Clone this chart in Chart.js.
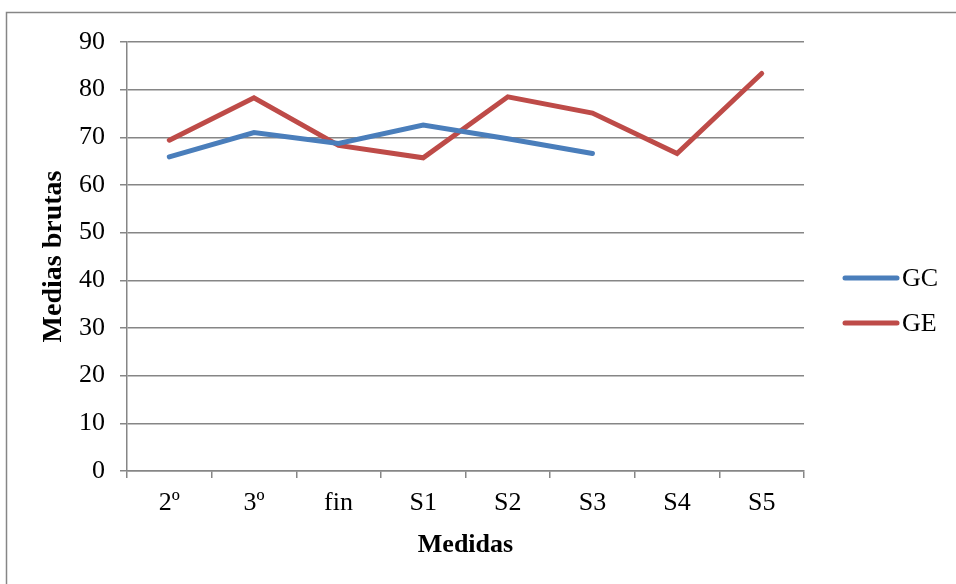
<!DOCTYPE html>
<html>
<head>
<meta charset="utf-8">
<script src="https://cdn.jsdelivr.net/npm/chart.js@4/dist/chart.umd.min.js"></script>
<style>
  html, body { margin: 0; padding: 0; background: #ffffff; }
  #wrap { width: 956px; height: 584px; }
</style>
</head>
<body>
<div id="wrap"><canvas id="c" width="956" height="584"></canvas></div>
<script>
// Measurement points and group means
const categories = ['2º', '3º', 'fin', 'S1', 'S2', 'S3', 'S4', 'S5'];
const gcValues = [65.9, 71.0, 68.7, 72.6, 69.7, 66.6, null, null];
const geValues = [69.4, 78.3, 68.3, 65.7, 78.5, 75.1, 66.6, 83.4];
const seriesNames = ['GC', 'GE'];
const seriesColors = ['#4A7EBB', '#BE4B48'];
const yTicks = [0, 10, 20, 30, 40, 50, 60, 70, 80, 90];

const FONT = "'Liberation Serif', 'Times New Roman', serif";
const GRID = '#868686';

// Frame around the whole chart
const framePlugin = {
  id: 'frame',
  beforeDraw(chart) {
    const ctx = chart.ctx;
    ctx.save();
    ctx.fillStyle = '#ffffff';
    ctx.fillRect(0, 0, chart.width, chart.height);
    ctx.strokeStyle = GRID;
    ctx.lineWidth = 1.5;
    ctx.strokeRect(6.5, 12.5, 1200, 1200);
    ctx.restore();
  }
};

// Legend on the right, one line sample per series
const sideLegend = {
  id: 'sideLegend',
  afterDraw(chart) {
    const ctx = chart.ctx;
    const rows = [278, 323];
    ctx.save();
    chart.data.datasets.forEach((ds, i) => {
      const y = rows[i];
      ctx.strokeStyle = ds.borderColor;
      ctx.lineWidth = 5;
      ctx.lineCap = 'round';
      ctx.beginPath();
      ctx.moveTo(845, y);
      ctx.lineTo(897, y);
      ctx.stroke();
      ctx.fillStyle = '#000000';
      ctx.font = '26px ' + FONT;
      ctx.textAlign = 'left';
      ctx.textBaseline = 'middle';
      ctx.fillText(ds.label, 902, y + 1);
    });
    ctx.restore();
  }
};

new Chart(document.getElementById('c'), {
  type: 'line',
  data: {
    labels: categories,
    datasets: [
      { label: seriesNames[0], data: gcValues, borderColor: seriesColors[0], backgroundColor: seriesColors[0] },
      { label: seriesNames[1], data: geValues, borderColor: seriesColors[1], backgroundColor: seriesColors[1] }
    ]
  },
  options: {
    responsive: false,
    animation: false,
    devicePixelRatio: 1,
    layout: { padding: { left: 30, right: 152, top: 42, bottom: 20 } },
    elements: {
      line: { borderWidth: 5, tension: 0, borderCapStyle: 'round', borderJoinStyle: 'miter' },
      point: { radius: 0, hoverRadius: 0 }
    },
    plugins: {
      legend: { display: false },
      tooltip: { enabled: false }
    },
    scales: {
      x: {
        offset: true,
        grid: {
          offset: true,
          drawOnChartArea: false,
          drawTicks: true,
          tickLength: 7,
          color: GRID,
          lineWidth: 1.5
        },
        border: { color: GRID, width: 1.5 },
        ticks: {
          color: '#000000',
          font: { family: FONT, size: 26 },
          padding: 10,
          maxRotation: 0,
          autoSkip: false
        },
        title: {
          display: true,
          text: 'Medidas',
          color: '#000000',
          font: { family: FONT, size: 26, weight: 'bold' },
          padding: { top: 0, bottom: 3 }
        },
        afterFit(scale) { scale.height = 584 - 471 - 20; }
      },
      y: {
        min: 0,
        max: 90,
        afterBuildTicks(scale) { scale.ticks = yTicks.map(v => ({ value: v })); },
        grid: {
          color: GRID,
          lineWidth: 1.5,
          drawTicks: true,
          tickLength: 7
        },
        border: { color: GRID, width: 1.5 },
        ticks: {
          color: '#000000',
          font: { family: FONT, size: 26 },
          padding: 15
        },
        title: {
          display: true,
          text: 'Medias brutas',
          color: '#000000',
          font: { family: FONT, size: 28, weight: 'bold' },
          padding: { top: 7, bottom: 0 }
        },
        afterFit(scale) { scale.width = 127 - 30; }
      }
    }
  },
  plugins: [framePlugin, sideLegend]
});
</script>
</body>
</html>
